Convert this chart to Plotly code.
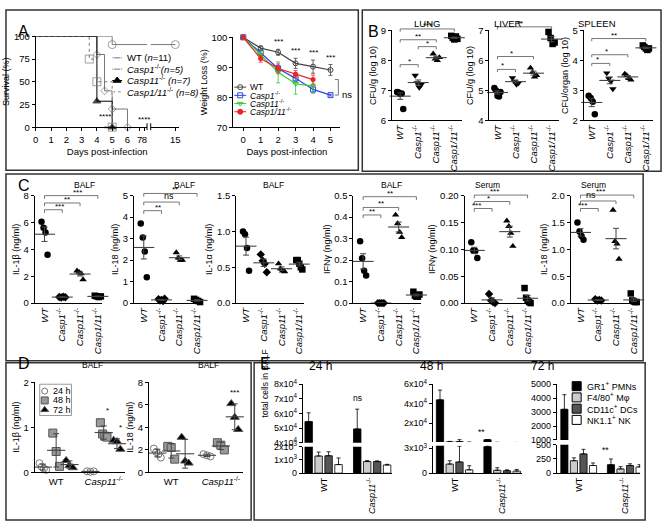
import numpy as np
import plotly.graph_objects as go

W, H = 667, 528
FONT = "Arial, 'Liberation Sans', sans-serif"

# ---------------- A: survival ----------------
surv_wt_days = [0, 5, 15]
surv_wt_pct = [100, 90.9, 90.9]
surv_c1_days = [0, 4, 4.5, 5, 6]
surv_c1_pct = [100, 80, 40, 20, 0]
surv_c11_days = [0, 4, 5]
surv_c11_pct = [100, 28.6, 0]
surv_c111_days = [0, 3.5, 4, 5]
surv_c111_pct = [100, 75, 50, 0]
surv_tick_days = [0, 1, 2, 3, 4, 5, 6, 7, 8, 15]
surv_tick_pos = [0, 1, 2, 3, 4, 5, 6, 6.8, 7.1, 9.13]   # broken axis scale

# ---------------- A: weight loss ----------------
wl_days = [0, 1, 2, 3, 4, 5]
wl_wt = [100, 96.4, 95.0, 91.3, 90.2, 89.1]
wl_wt_err = [0, 0.6, 1.0, 1.7, 2.2, 1.8]
wl_c1 = [100, 94.8, 89.6, 86.3, 82.6, 80.7]
wl_c1_err = [0, 0.8, 1.0, 1.0, 1.2, 0.3]
wl_c11_days = [0, 1, 2, 3, 4]
wl_c11 = [100, 94.2, 88.3, 84.5, 83.7]
wl_c11_err = [0, 1.2, 3.5, 3.5, 2.0]
wl_c111 = [100, 92.9, 89.6, 87.7, 85.9]
wl_c111_err = [0, 1.2, 1.5, 1.2, 1.5]

# ---------------- B: bacterial burden ----------------
lung_wt = [6.95, 6.93, 6.88, 6.90, 6.38]
lung_c1 = [7.50, 7.25, 7.10, 7.20]
lung_c11 = [8.22, 8.05, 8.00, 8.10]
lung_c111 = [8.82, 8.75, 8.70, 8.80, 8.72]
liver_wt = [5.08, 5.00, 4.82, 4.80, 4.95]
liver_c1 = [5.42, 5.30, 5.20, 5.25]
liver_c11 = [5.75, 5.60, 5.45, 5.50]
liver_c111 = [6.95, 6.75, 6.55, 6.60]
spleen_wt = [2.82, 2.75, 2.62, 2.20]
spleen_c1 = [3.58, 3.40, 3.30, 3.05]
spleen_c11 = [3.55, 3.50, 3.40, 3.35]
spleen_c111 = [4.50, 4.45, 4.40, 4.35, 4.40]

# ---------------- C: cytokines ----------------
il1b_balf = [[6.05, 5.60, 5.25, 3.60], [0.45, 0.42, 0.48, 0.44],
             [2.40, 2.30, 2.20, 1.75], [0.55, 0.50, 0.45, 0.50]]
il18_balf = [[3.70, 3.05, 2.40, 1.20], [0.18, 0.12, 0.15, 0.10, 0.20],
             [2.35, 2.10, 2.00, 2.00], [0.20, 0.15, 0.10, 0.05]]
il1a_balf = [[1.00, 0.96, 0.77, 0.45], [0.68, 0.59, 0.55, 0.43],
             [0.55, 0.48, 0.45, 0.44], [0.60, 0.60, 0.55, 0.50, 0.47]]
ifng_balf = [[0.288, 0.209, 0.150, 0.129], [0.0, 0.0, 0.0, 0.0],
             [0.410, 0.370, 0.330, 0.306], [0.053, 0.035, 0.030, 0.030, 0.040]]
ifng_serum = [[0.113, 0.098, 0.097, 0.084], [0.017, 0.005, 0.002, 0.0],
              [0.153, 0.143, 0.130, 0.106], [0.028, 0.010, 0.005, 0.002, 0.0]]
il18_serum = [[1.50, 1.33, 1.25, 1.18], [0.07, 0.05, 0.06, 0.05],
              [1.73, 1.15, 1.10, 0.82], [0.18, 0.05, 0.03, 0.02, 0.02]]

# ---------------- D: time course (WT, Casp11-/-) ----------------
d_il1b_24 = [[0.20, 0.12, 0.08, 0.05], [0.02, 0.01, 0.02]]
d_il1b_48 = [[0.87, 0.46, 0.13], [1.10, 0.85, 0.80, 0.78]]
d_il1b_72 = [[0.26, 0.15, 0.10], [0.71, 0.68, 0.51]]
d_il18_24 = [[2.10, 1.80, 1.60, 1.30], [1.60, 1.50, 1.40]]
d_il18_48 = [[2.30, 2.20, 1.16], [2.62, 2.40, 1.98]]
d_il18_72 = [[3.11, 0.99, 0.81], [6.10, 4.88, 3.80]]

# ---------------- E: cell counts (WT, Casp11-/-) ----------------
cell_names = ["GR1<sup>+</sup> PMNs", "F4/80<sup>+</sup> Mφ", "CD11c<sup>+</sup> DCs", "NK1.1<sup>+</sup> NK"]
cell_colors = ["black", "#cccccc", "#555555", "white"]
e24 = [[5.45e4, 4.95e4], [1300, 880], [1320, 880], [650, 620]]
e24_err = [[0.6e4, 1.35e4], [300, 80], [300, 50], [500, 50]]
e48 = [[4.4e4, 3200], [1100, 350], [1350, 300], [400, 250]]
e48_err = [[1.0e4, 150], [400, 300], [1900, 100], [500, 200]]
e72 = [[3200, 150], [220, 75], [340, 135], [135, 110]]
e72_err = [[1050, 100], [50, 40], [80, 30], [45, 40]]

GENO_TICKS = ["<i>WT</i>", "<i>Casp1</i><sup>-/-</sup>", "<i>Casp11</i><sup>-/-</sup>",
              "<i>Casp1/11</i><sup>-/-</sup>"]

fig = go.Figure()
axes_layout = {}
AX = {}
shapes = []
annots = []
count = [0]


def add_axes(key, xpx, ypx, xr, yr, xkw=None, ykw=None):
    count[0] += 1
    sfx = "" if count[0] == 1 else str(count[0])
    xa, ya = "x" + sfx, "y" + sfx
    base = dict(showline=True, linecolor="black", linewidth=1, ticks="outside", ticklen=3,
                tickcolor="black", showgrid=False, zeroline=False,
                tickfont=dict(size=9.5, color="black", family=FONT))
    xd = dict(base, domain=[xpx[0] / W, xpx[1] / W], range=xr, anchor=ya)
    yd = dict(base, domain=[1 - ypx[1] / H, 1 - ypx[0] / H], range=yr, anchor=xa)
    xd.update(xkw or {})
    yd.update(ykw or {})
    axes_layout["xaxis" + sfx] = xd
    axes_layout["yaxis" + sfx] = yd
    AX[key] = dict(xa=xa, ya=ya, xpx=xpx, ypx=ypx, xr=xr, yr=yr)


def to_paper(key, x, y):
    a = AX[key]
    fx = (x - a["xr"][0]) / (a["xr"][1] - a["xr"][0])
    fy = (y - a["yr"][0]) / (a["yr"][1] - a["yr"][0])
    px = a["xpx"][0] + fx * (a["xpx"][1] - a["xpx"][0])
    py = a["ypx"][1] - fy * (a["ypx"][1] - a["ypx"][0])
    return px / W, 1 - py / H


def text(xp, yp, s, size=9, **kw):
    d = dict(x=xp / W, y=1 - yp / H, xref="paper", yref="paper", text=s, showarrow=False,
             font=dict(size=size, color="black", family=FONT))
    d.update(kw)
    annots.append(d)


def ytitle(s):
    return dict(text=s, font=dict(size=9, family=FONT, color="black"), standoff=2)


def bracket(key, i, j, y, label):
    a = AX[key]
    drop = 0.03 * (a["yr"][1] - a["yr"][0])
    x0, y0 = to_paper(key, i, y - drop)
    x1, y1 = to_paper(key, i, y)
    x2, y2 = to_paper(key, j, y)
    x3, y3 = to_paper(key, j, y - drop)
    shapes.append(dict(type="path", xref="paper", yref="paper",
                       path=f"M {x0},{y0} L {x1},{y1} L {x2},{y2} L {x3},{y3}",
                       line=dict(color="#555", width=0.8)))
    annots.append(dict(x=(x1 + x2) / 2, y=y1, xref="paper", yref="paper", text=label,
                       showarrow=False, yanchor="bottom", yshift=-3 if "*" in label else -1,
                       font=dict(size=8 if "*" in label else 9, color="black", family=FONT)))


def mean_err(key, x, vals, kind="sem", width=15):
    v = np.asarray(vals, dtype=float)
    sd = v.std(ddof=1) if len(v) > 1 else 0
    e = sd / np.sqrt(len(v)) if kind == "sem" else sd
    a = AX[key]
    fig.add_trace(go.Scatter(
        x=[x], y=[v.mean()], mode="markers", xaxis=a["xa"], yaxis=a["ya"],
        marker=dict(symbol="line-ew", size=width, line=dict(width=1.1, color="#444")),
        error_y=dict(type="data", array=[e], width=3, thickness=1, color="#444"),
        showlegend=False, hoverinfo="skip", cliponaxis=False))


def dot_panel(key, groups, symbols):
    a = AX[key]
    for i, vals in enumerate(groups):
        n = len(vals)
        xs = i + np.linspace(-0.17, 0.17, n)
        fig.add_trace(go.Scatter(
            x=xs, y=vals, mode="markers", xaxis=a["xa"], yaxis=a["ya"],
            marker=dict(symbol=symbols[i], size=6.5, color="black"),
            showlegend=False, hoverinfo="skip", cliponaxis=False))
        mean_err(key, i, vals)


def legend_rows(x_sym, x_text, y0, dy, entries, size=9, half=0):
    # hand-drawn legend on the pixel overlay axis
    a = AX["ov"]
    for i, (label, sym, col, msize, lcol, dash) in enumerate(entries):
        y = y0 + i * dy
        if half:
            fig.add_trace(go.Scatter(x=[x_sym - half, x_sym + half], y=[y, y], mode="lines",
                                     line=dict(color=lcol, width=1, dash=dash), xaxis=a["xa"], yaxis=a["ya"],
                                     showlegend=False, hoverinfo="skip"))
        fig.add_trace(go.Scatter(x=[x_sym], y=[y], mode="markers", xaxis=a["xa"], yaxis=a["ya"],
                                 marker=dict(symbol=sym, size=msize, color=col, line=dict(width=1, color=lcol)),
                                 showlegend=False, hoverinfo="skip", cliponaxis=False))
        text(x_text, y, label, size=size, xanchor="left", yanchor="middle")


geno_x = dict(tickvals=[0, 1, 2, 3], ticktext=GENO_TICKS, tickangle=-90, ticks="")

# ======== A: survival ========
surv_x = lambda d: list(np.interp(d, surv_tick_days, surv_tick_pos))
add_axes("surv", (33, 177), (30, 123), [0, 9.35], [0, 100],
         dict(tickvals=surv_tick_pos, ticktext=[str(d) for d in surv_tick_days], tickangle=0,
              title=dict(text="Days post-infection", font=dict(size=9.5), standoff=4)),
         dict(tickvals=[0, 25, 50, 75, 100], title=ytitle("Survival (%)")))
surv_series = [
    ("WT (<i>n</i>=11)", surv_wt_days, surv_wt_pct, "circle-open", 8, "#777", "solid"),
    ("<i>Casp1</i><sup>-/-</sup><i>(n=5)</i>", surv_c1_days, surv_c1_pct, "diamond-open", 6, "#777", "solid"),
    ("<i>Casp11</i><sup>-/-</sup> <i>(n=7)</i>", surv_c11_days, surv_c11_pct, "triangle-up", 7, "black", "solid"),
    ("<i>Casp1/11</i><sup>-/-</sup> <i>(n=8)</i>", surv_c111_days, surv_c111_pct, "square-open", 8, "#777", "dot"),
]
for name, d, p, sym, sz, col, dash in surv_series:
    fig.add_trace(go.Scatter(
        x=surv_x(d), y=p, name=name, mode="lines+markers", line_shape="hv",
        line=dict(color=col, width=1, dash=dash),
        marker=dict(symbol=sym, size=[0] + [sz] * (len(d) - 1), color=col, line=dict(width=1, color=col)),
        xaxis=AX["surv"]["xa"], yaxis=AX["surv"]["ya"], showlegend=False, cliponaxis=False))
# axis break
bx0, _ = to_paper("surv", 7.28, 0)
bx1, _ = to_paper("surv", 7.52, 0)
_, by0 = to_paper("surv", 0, -4)
_, by1 = to_paper("surv", 0, 95)
shapes.append(dict(type="rect", xref="paper", yref="paper", x0=bx0, x1=bx1, y0=by0, y1=by1,
                   fillcolor="white", line=dict(width=0), layer="above"))
for bx in (bx0, bx1):
    shapes.append(dict(type="line", xref="paper", yref="paper", x0=bx, x1=bx,
                       y0=1 - 126 / H, y1=1 - 119 / H, line=dict(color="black", width=1)))
for (xd_, yd_) in [(4.0, 19), (4.35, 6), (6.55, 16)]:
    xp, yp = to_paper("surv", xd_, yd_)
    annots.append(dict(x=xp, y=yp, xref="paper", yref="paper", text="****", showarrow=False,
                       font=dict(size=8, color="black", family=FONT)))

# ======== A: weight loss ========
add_axes("wl", (232, 340), (31, 123), [-0.57, 5.57], [70, 100],
         dict(tickvals=wl_days, tickangle=0, title=dict(text="Days post-infection", font=dict(size=9.5), standoff=4)),
         dict(tickvals=[70, 80, 90, 100], title=ytitle("Weight Loss (%)")))
wl_series = [
    ("WT", wl_days, wl_wt, wl_wt_err, "#444", "circle-open"),
    ("<i>Casp1</i><sup>-/-</sup>", wl_days, wl_c1, wl_c1_err, "#3344dd", "square-open"),
    ("<i>Casp11</i><sup>-/-</sup>", wl_c11_days, wl_c11, wl_c11_err, "#33cc33", "triangle-down-open"),
    ("<i>Casp1/11</i><sup>-/-</sup>", wl_c11_days, wl_c111, wl_c111_err, "#ee2222", "circle"),
]
for name, d, v, e, col, sym in wl_series:
    fig.add_trace(go.Scatter(
        x=d, y=v, name=name, mode="lines+markers", line=dict(color=col, width=1.2),
        marker=dict(symbol=sym, size=5, color=col),
        error_y=dict(type="data", array=e, width=2, thickness=0.8, color=col),
        xaxis=AX["wl"]["xa"], yaxis=AX["wl"]["ya"], showlegend=False, cliponaxis=False))
for d, v, e in zip(wl_days[2:], wl_wt[2:], wl_wt_err[2:]):
    xp, yp = to_paper("wl", d, v + e + 0.3)
    annots.append(dict(x=xp, y=yp, xref="paper", yref="paper", text="***", showarrow=False,
                       yanchor="bottom", font=dict(size=8, color="black", family=FONT)))
nx0, ny0 = to_paper("wl", 5.25, wl_c111[-1])
nx1, ny1 = to_paper("wl", 5.45, wl_c1[-1])
shapes.append(dict(type="path", xref="paper", yref="paper",
                   path=f"M {nx0},{ny0} L {nx1},{ny0} L {nx1},{ny1} L {nx0},{ny1}",
                   line=dict(color="#555", width=0.8)))
annots.append(dict(x=nx1 + 2 / W, y=(ny0 + ny1) / 2, xref="paper", yref="paper", text="ns",
                   showarrow=False, xanchor="left", font=dict(size=9.5, color="black", family=FONT)))

# ======== B ========
b_sym = ["circle", "triangle-down", "triangle-up", "square"]
b_panels = [
    ("lung", (392, 462), [6, 9], [lung_wt, lung_c1, lung_c11, lung_c111], "CFU/g (log 10)", "LUNG",
     [(0, 1, 7.86, "*"), (1, 2, 8.46, "*"), (0, 2, 8.69, "**"), (0, 3, 9.05, "***")]),
    ("liver", (490, 560), [4, 7], [liver_wt, liver_c1, liver_c11, liver_c111], "CFU/g (log 10)", "LIVER",
     [(0, 1, 5.70, "*"), (0, 2, 6.13, "*"), (0, 3, 7.12, "**")]),
    ("spleen", (585, 655), [2, 5], [spleen_wt, spleen_c1, spleen_c11, spleen_c111], "CFU/organ (log 10)", "SPLEEN",
     [(0, 1, 3.90, "*"), (0, 2, 4.19, "*"), (0, 3, 4.73, "**")]),
]
for key, xpx, yr, groups, yt, title, brs in b_panels:
    add_axes(key, xpx, (24, 116), [-0.45, 3.4], yr, geno_x,
             dict(dtick=1, title=ytitle(yt)))
    dot_panel(key, groups, b_sym)
    for br in brs:
        bracket(key, *br)
    text((xpx[0] + xpx[1]) / 2, 9, title, size=9.5)

# ======== C ========
c_sym = ["circle", "diamond", "triangle-up", "square"]
c_panels = [
    ("c1", (32, 100), [0, 8], il1b_balf, "IL-1β (ng/ml)", "BALF", dict(dtick=2),
     [(0, 1, 6.95, "***"), (0, 2, 7.45, "**"), (0, 3, 8.0, "***")]),
    ("c2", (132, 200), [0, 5], il18_balf, "IL-18 (ng/ml)", "BALF", dict(dtick=1),
     [(0, 1, 4.3, "**"), (0, 2, 4.7, "ns"), (0, 3, 5.1, "**")]),
    ("c3", (235, 303), [0, 1.5], il1a_balf, "IL-1α (ng/ml)", "BALF", dict(dtick=0.5, tickformat=".1f"), []),
    ("c4", (353, 421), [0, 0.5], ifng_balf, "IFNγ (ng/ml)", "BALF", dict(dtick=0.1, tickformat=".1f"),
     [(0, 1, 0.41, "**"), (0, 2, 0.445, "**"), (0, 3, 0.495, "**")]),
    ("c5", (465, 533), [0, 0.2], ifng_serum, "IFNγ (ng/ml)", "Serum", dict(dtick=0.05, tickformat=".2f"),
     [(0, 1, 0.176, "***"), (0, 2, 0.189, "*"), (0, 3, 0.201, "***")]),
    ("c6", (572, 640), [0, 2], il18_serum, "IL-18 (ng/ml)", "Serum", dict(dtick=0.5, tickformat=".1f"),
     [(0, 1, 1.76, "***"), (0, 2, 1.9, "ns"), (0, 3, 2.01, "***")]),
]
for key, xpx, yr, groups, yt, title, ykw, brs in c_panels:
    add_axes(key, xpx, (193, 303), [-0.55, 3.25], yr, geno_x,
             dict(ykw, title=ytitle(yt)))
    dot_panel(key, groups, c_sym)
    for br in brs:
        bracket(key, *br)
    text((xpx[0] + xpx[1]) / 2 + 4, 182, title, size=8.5)

# ======== D ========
d_style = [("24 h", "circle-open", "#777", 7), ("48 h", "square", "#999", 8), ("72 h", "triangle-up", "black", 8)]
d_offsets = [-0.28, 0.0, 0.28]
d_x = dict(tickvals=[0, 1], ticktext=["WT", "<i>Casp11</i><sup>-/-</sup>"], ticks="", tickangle=0,
           tickfont=dict(size=9.5, color="black"))
d_panels = [
    ("d1", (32, 123), [0, 2], [d_il1b_24, d_il1b_48, d_il1b_72], "IL-1β (ng/ml)", dict(dtick=1)),
    ("d2", (147, 242), [0, 8], [d_il18_24, d_il18_48, d_il18_72], "IL-18 (ng/ml)", dict(dtick=2)),
]
for pi, (key, xpx, yr, series, yt, ykw) in enumerate(d_panels):
    add_axes(key, xpx, (384, 476), [-0.45, 1.45], yr, d_x, dict(ykw, title=ytitle(yt)))
    a = AX[key]
    for (name, sym, col, sz), off, grp in zip(d_style, d_offsets, series):
        xs, ys = [], []
        for gi, vals in enumerate(grp):
            xs += list(gi + off + np.linspace(-0.07, 0.07, len(vals)))
            ys += list(vals)
        fig.add_trace(go.Scatter(
            x=xs, y=ys, mode="markers", name=name, xaxis=a["xa"], yaxis=a["ya"],
            marker=dict(symbol=sym, size=sz, color=col, line=dict(width=1, color="#555" if sym != "circle-open" else col)),
            showlegend=False, cliponaxis=False, hoverinfo="skip"))
        for gi, vals in enumerate(grp):
            mean_err(key, gi + off, vals, kind="sd", width=13)
    text((xpx[0] + xpx[1]) / 2, 373, "BALF", size=8.5)
for key, x, y, s in [("d1", 1.0, 1.22, "*"), ("d1", 1.28, 0.86, "*"), ("d2", 1.28, 6.5, "***")]:
    xp, yp = to_paper(key, x, y)
    annots.append(dict(x=xp, y=yp, xref="paper", yref="paper", text=s, showarrow=False,
                       yanchor="bottom", font=dict(size=8, color="black", family=FONT)))

# ======== E ========
def sci(v, p):
    return "0" if v == 0 else f"{int(round(v / 10 ** p))}x10<sup>{p}</sup>"

e_panels = [
    ("24 h", (302, 392), e24, e24_err, ((386, 446), [4e4, 8e4], [4e4, 5e4, 6e4, 7e4, 8e4], 4),
     ((450, 477), [0, 2e3], [0, 1e3, 2e3], 3), [-0.43, 1.41], 320),
    ("48 h", (433, 523), e48, e48_err, ((386, 445), [1e3, 6e4], [2e4, 4e4, 6e4], 4),
     ((449, 477), [0, 3.3e3], [0, 3e3], 3), [-0.46, 1.42], 445),
    ("72 h", (558, 642), e72, e72_err, ((386, 443), [1000, 5000], [1000, 2000, 3000, 4000, 5000], None),
     ((448, 477), [0, 500], [0, 250, 500], None), [-0.47, 1.32], 557),
]
e_tickfont = dict(size=9, color="black", family=FONT)
for ti, (tname, xpx, vals, errs, top, bot, xr, tx) in enumerate(e_panels):
    for seg, (ypx, yr, tv, p) in (("top", top), ("bot", bot)):
        key = f"e{ti}{seg}"
        tt = [sci(v, p) if p else str(int(v)) for v in tv]
        if seg == "top":
            xkw = dict(showline=False, showticklabels=False, ticks="")
        else:
            xkw = dict(tickvals=[0, 1], ticktext=["WT", "<i>Casp11</i><sup>-/-</sup>"], tickangle=-90, ticks="",
                       tickfont=e_tickfont)
        add_axes(key, xpx, ypx, xr, yr, xkw, dict(tickvals=tv, ticktext=tt, tickfont=e_tickfont))
        a = AX[key]
        for ci in range(4):
            fig.add_trace(go.Bar(
                x=[0, 1], y=vals[ci], name=cell_names[ci],
                marker=dict(color=cell_colors[ci], line=dict(color="black", width=0.8)),
                error_y=dict(type="data", array=errs[ci], arrayminus=[0, 0], symmetric=False,
                             width=2, thickness=0.8, color="black"),
                xaxis=a["xa"], yaxis=a["ya"], showlegend=False, hoverinfo="skip"))
    text(tx, 377, tname, size=12)
text(264, 422, "total cells in BALF", size=8.5, textangle=-90)
for key, x, y, s in [("e0top", 0.69, 6.55e4, "ns"), ("e1top", 0.69, 4e3, "**"), ("e2bot", 0.69, 280, "**")]:
    xp, yp = to_paper(key, x, y)
    annots.append(dict(x=xp, y=yp, xref="paper", yref="paper", text=s, showarrow=False,
                       yanchor="bottom", font=dict(size=8.5, color="black", family=FONT)))

# ======== legends (drawn on a pixel overlay) ========
add_axes("ov", (0, W), (0, H), [0, W], [H, 0], dict(visible=False), dict(visible=False))
legend_rows(115, 123, 52, 11.6,
            [(name, sym, "white" if "open" in sym else col, sz, col, dash)
             for name, _, _, sym, sz, col, dash in surv_series], size=9.5, half=5)
legend_rows(239, 247, 82, 8.4,
            [(name, sym, col, 5, col, "solid") for name, _, _, _, col, sym in wl_series], size=8.5, half=6)
shapes.append(dict(type="rect", xref="paper", yref="paper", x0=37 / W, x1=69 / W,
                   y0=1 - 418 / H, y1=1 - 386 / H, line=dict(color="#999", width=1)))
legend_rows(42, 48, 393, 9.6,
            [(name, sym, col, sz - 1, "#555" if sym != "circle-open" else col, "solid")
             for name, sym, col, sz in d_style], size=9)
legend_rows(578, 586, 388, 11.5,
            [(name, "square", col, 9, "black", "solid") for name, col in zip(cell_names, cell_colors)], size=9)

# ======== frames and panel letters ========
for (x0, y0, x1, y1) in [(3, 3, 358, 167), (362, 3, 663, 168), (3, 171, 645, 362),
                         (3, 364, 250, 525), (253, 364, 647, 525)]:
    shapes.append(dict(type="rect", xref="paper", yref="paper", x0=x0 / W, x1=x1 / W,
                       y0=1 - y1 / H, y1=1 - y0 / H, line=dict(color="#333", width=1.5)))
for s, x, y in [("A", 13, 14), ("B", 373, 14), ("C", 13, 183), ("D", 13, 376), ("E", 264, 376)]:
    text(x, y, s, size=16)

fig.update_layout(
    **axes_layout,
    width=W, height=H, margin=dict(l=0, r=0, t=0, b=0),
    paper_bgcolor="white", plot_bgcolor="rgba(0,0,0,0)",
    font=dict(family=FONT, color="black", size=9),
    barmode="group", bargap=0.18, bargroupgap=0.25,
    shapes=shapes, annotations=annots, showlegend=False,
)

fig.write_html("out.html", config={"displayModeBar": False},
               post_script="document.body.style.margin='0';")
